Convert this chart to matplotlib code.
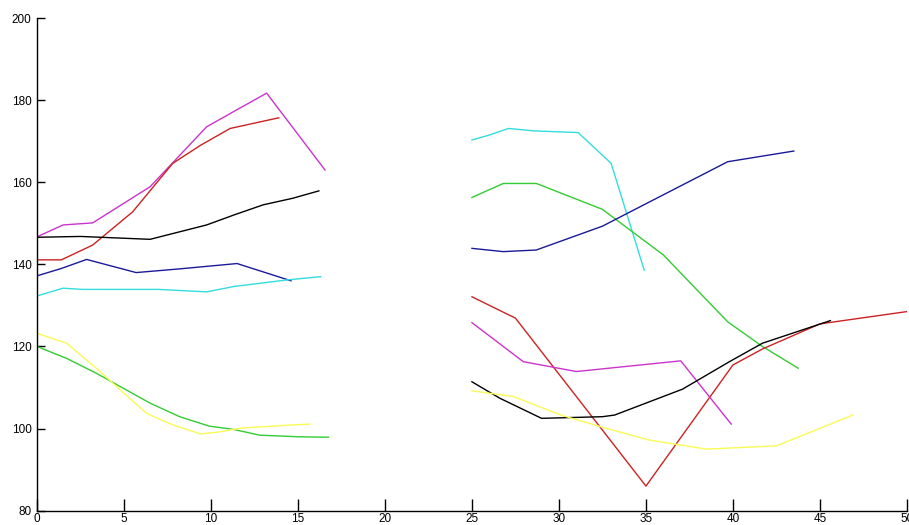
import matplotlib
matplotlib.use('Agg')
import matplotlib.pyplot as plt

# Serie izquierda (x de 0 a ~17)
mag_l_x = [0, 1.5, 3.2, 6.5, 9.75, 11.3, 13.2, 16.55]
mag_l_y = [146.7, 149.6, 150.1, 158.9, 173.5, 177.2, 181.7, 163]

red_l_x = [0, 1.4, 3.2, 5.5, 7.8, 9.4, 11.1, 13.9]
red_l_y = [141.1, 141.1, 144.7, 152.8, 164.6, 169, 173.1, 175.7]

blk_l_x = [0, 2.5, 6.5, 9.75, 11.3, 13, 14.7, 16.2]
blk_l_y = [146.6, 146.8, 146.1, 149.6, 152, 154.5, 156.1, 157.9]

blu_l_x = [0, 1.4, 2.85, 5.7, 8.2, 11.5, 14.6]
blu_l_y = [137.2, 139, 141.2, 138, 138.9, 140.2, 136]

cya_l_x = [0, 1.5, 2.6, 7, 9.75, 11.3, 14.35, 16.3]
cya_l_y = [132.3, 134.2, 133.9, 133.9, 133.3, 134.6, 136.2, 137]

grn_l_x = [0, 1.7, 3.4, 6.5, 8.2, 9.9, 11.3, 12.8, 15.1, 16.75]
grn_l_y = [120, 117.1, 113.5, 106.2, 102.9, 100.6, 99.8, 98.4, 98, 97.9]

yel_l_x = [0, 1.7, 3.6, 5, 6.3, 7.8, 9.4, 10.5, 11.7, 13.2, 14.7, 15.7]
yel_l_y = [123.2, 120.8, 114, 108.6, 103.7, 100.9, 98.7, 99.2, 100.1, 100.5, 100.9, 101.1]

# Serie derecha (x de 25 a 50)
cya_r_x = [25, 26, 27.1, 28.6, 31.1, 33, 34.9]
cya_r_y = [170.3, 171.5, 173.1, 172.5, 172.1, 164.6, 138.6]

grn_r_x = [25, 26.8, 28.7, 32.5, 34.2, 36, 39.7, 40.5, 41.7, 43.75]
grn_r_y = [156.3, 159.7, 159.7, 153.4, 148, 142.3, 126, 123.6, 120, 114.7]

blu_r_x = [25, 26.8, 28.7, 32.5, 34.1, 39.7, 43.5]
blu_r_y = [143.9, 143.1, 143.5, 149.3, 152.8, 165, 167.6]

red_r_x = [25, 27.5, 35, 40, 41.7, 45, 50]
red_r_y = [132.1, 126.9, 86, 115.5, 119.4, 125.5, 128.5]

mag_r_x = [25, 27.95, 31, 37, 39.9]
mag_r_y = [125.8, 116.3, 113.9, 116.5, 101.1]

blk_r_x = [25, 26.6, 29, 32.5, 33.2, 37.1, 39.8, 41.7, 45.6]
blk_r_y = [111.4, 107.4, 102.5, 102.9, 103.3, 109.6, 116.3, 120.8, 126.3]

yel_r_x = [25, 27.4, 30.1, 32.7, 35.2, 38.5, 42.5, 46.9]
yel_r_y = [109.2, 107.8, 103.3, 100.1, 97.2, 95, 95.8, 103.3]

col_mag = '#cc33cc'
col_red = '#cc2222'
col_blk = '#000000'
col_blu = '#1a1a99'
col_cya = '#33dddd'
col_grn = '#33cc33'
col_yel = '#fafa55'

plt.rcParams['font.family'] = ['Liberation Sans', 'DejaVu Sans']

fig = plt.figure(figsize=(9.09, 5.25), dpi=100, facecolor='w')
ax = fig.add_axes([0.0407, 0.0272, 0.957, 0.9385])

lw = 1.0
series = [
    (mag_l_x, mag_l_y, col_mag), (red_l_x, red_l_y, col_red),
    (blk_l_x, blk_l_y, col_blk), (blu_l_x, blu_l_y, col_blu),
    (cya_l_x, cya_l_y, col_cya), (grn_l_x, grn_l_y, col_grn),
    (yel_l_x, yel_l_y, col_yel),
    (cya_r_x, cya_r_y, col_cya), (grn_r_x, grn_r_y, col_grn),
    (blu_r_x, blu_r_y, col_blu), (red_r_x, red_r_y, col_red),
    (mag_r_x, mag_r_y, col_mag), (blk_r_x, blk_r_y, col_blk),
    (yel_r_x, yel_r_y, col_yel),
]
for xs, ys, c in series:
    ax.plot(xs, ys, color=c, linewidth=lw)

ax.set_xlim(0, 50)
ax.set_ylim(80, 200)
ax.set_xticks(range(0, 51, 5))
ax.set_yticks(range(80, 201, 20))

ax.spines['top'].set_visible(False)
ax.spines['right'].set_visible(False)
ax.spines['left'].set_linewidth(1.0)
ax.spines['bottom'].set_linewidth(1.0)
ax.tick_params(axis='x', direction='in', length=9, width=1, labelsize=8.5, pad=2)
ax.tick_params(axis='y', direction='in', length=6, width=1, labelsize=8.5, pad=4)

fig.savefig('out.png', dpi=100)
